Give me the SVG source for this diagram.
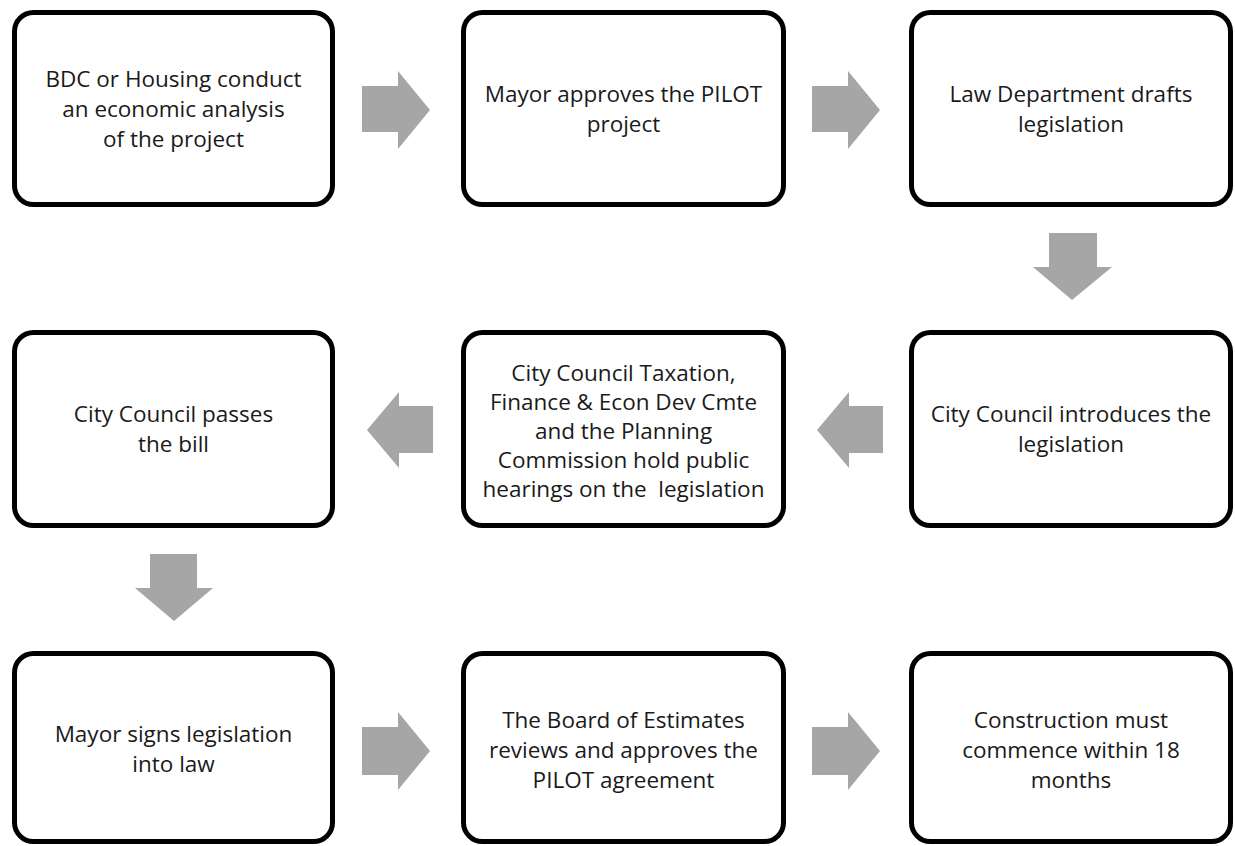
<svg xmlns="http://www.w3.org/2000/svg" width="1235" height="846" viewBox="0 0 1235 846">
<style>
.box{fill:#fff;stroke:#000;stroke-width:5}
.lbl{font-family:"Open Sans","Noto Sans","Liberation Sans",sans-serif;font-size:22.5px;fill:#1a1a1a;text-anchor:middle}
.arr{fill:#a6a6a6}
</style>
<rect width="1235" height="846" fill="#fff"/>
<g id="connectors">
<polygon class="arr" points="362,86 398,86 398,71 430,110 398,149 398,132 362,132"/>
<polygon class="arr" points="812,86 848,86 848,71 880,110 848,149 848,132 812,132"/>
<polygon class="arr" points="1049,233 1097,233 1097,267 1112,267 1072,300 1033,267 1049,267"/>
<polygon class="arr" points="883,406 849,406 849,392 817,430 849,468 849,453 883,453"/>
<polygon class="arr" points="433,406 399,406 399,392 367,430 399,468 399,453 433,453"/>
<polygon class="arr" points="150,554 197,554 197,588 213,588 174,621 135,588 150,588"/>
<polygon class="arr" points="362,727 398,727 398,712 430,751 398,790 398,775 362,775"/>
<polygon class="arr" points="812,727 848,727 848,712 880,751 848,790 848,775 812,775"/>
</g>
<g id="n1"><rect class="box" x="14.5" y="12.5" width="318" height="192" rx="19"/>
<text class="lbl" x="173.5" y="87">BDC or Housing conduct</text>
<text class="lbl" x="173.5" y="117">an economic analysis</text>
<text class="lbl" x="173.5" y="147">of the project</text></g>
<g id="n2"><rect class="box" x="463.5" y="12.5" width="320" height="192" rx="19"/>
<text class="lbl" x="623.5" y="102">Mayor approves the PILOT</text>
<text class="lbl" x="623.5" y="132">project</text></g>
<g id="n3"><rect class="box" x="911.5" y="12.5" width="319" height="192" rx="19"/>
<text class="lbl" x="1071" y="102">Law Department drafts</text>
<text class="lbl" x="1071" y="132">legislation</text></g>
<g id="n4"><rect class="box" x="911.5" y="332.5" width="319" height="193" rx="19"/>
<text class="lbl" x="1071" y="422">City Council introduces the</text>
<text class="lbl" x="1071" y="452">legislation</text></g>
<g id="n5"><rect class="box" x="463.5" y="332.5" width="320" height="193" rx="19"/>
<text class="lbl" x="623.5" y="381">City Council Taxation,</text>
<text class="lbl" x="623.5" y="410">Finance &amp; Econ Dev Cmte</text>
<text class="lbl" x="623.5" y="439">and the Planning</text>
<text class="lbl" x="623.5" y="468">Commission hold public</text>
<text class="lbl" x="623.5" y="497" xml:space="preserve">hearings on the  legislation</text></g>
<g id="n6"><rect class="box" x="14.5" y="332.5" width="318" height="193" rx="19"/>
<text class="lbl" x="173.5" y="422">City Council passes</text>
<text class="lbl" x="173.5" y="452">the bill</text></g>
<g id="n7"><rect class="box" x="14.5" y="653.5" width="318" height="188" rx="19"/>
<text class="lbl" x="173.5" y="742">Mayor signs legislation</text>
<text class="lbl" x="173.5" y="772">into law</text></g>
<g id="n8"><rect class="box" x="463.5" y="653.5" width="320" height="188" rx="19"/>
<text class="lbl" x="623.5" y="728">The Board of Estimates</text>
<text class="lbl" x="623.5" y="758">reviews and approves the</text>
<text class="lbl" x="623.5" y="788">PILOT agreement</text></g>
<g id="n9"><rect class="box" x="911.5" y="653.5" width="319" height="188" rx="19"/>
<text class="lbl" x="1071" y="728">Construction must</text>
<text class="lbl" x="1071" y="758">commence within 18</text>
<text class="lbl" x="1071" y="788">months</text></g>
</svg>
